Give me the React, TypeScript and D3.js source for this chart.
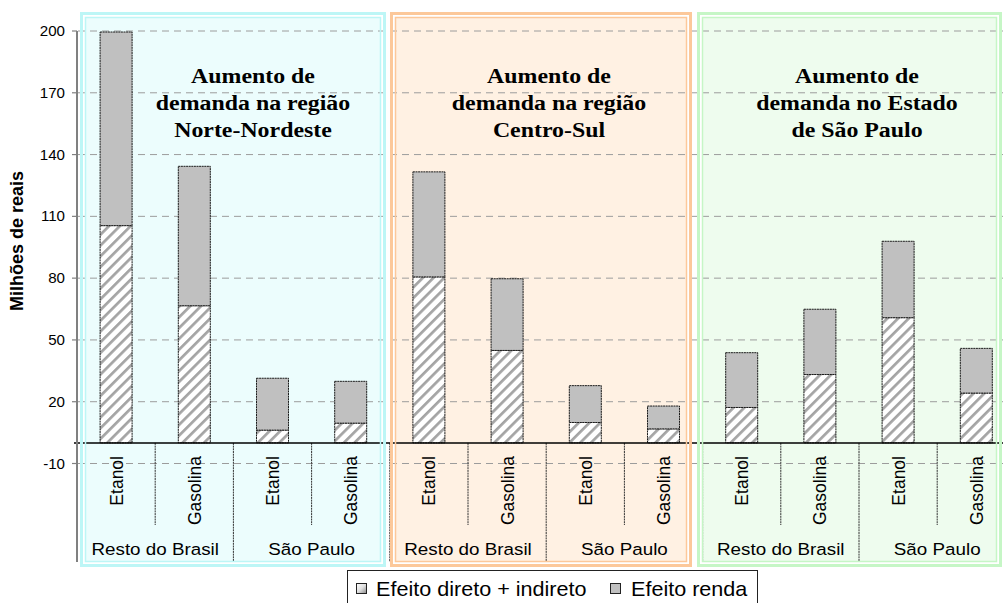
import React from "react";
import * as d3 from "d3";

const categories = ["Etanol", "Gasolina", "Etanol", "Gasolina", "Etanol", "Gasolina", "Etanol", "Gasolina", "Etanol", "Gasolina", "Etanol", "Gasolina"];
const groupLabels = ["Resto do Brasil", "São Paulo", "Resto do Brasil", "São Paulo", "Resto do Brasil", "São Paulo"];
const panelTitles = [
  ["Aumento de", "demanda na região", "Norte-Nordeste"],
  ["Aumento de", "demanda na região", "Centro-Sul"],
  ["Aumento de", "demanda no Estado", "de São Paulo"],
];
const seriesNames = ["Efeito direto + indireto", "Efeito renda"];
const directValues = [105.5, 66.6, 6.2, 9.6, 80.6, 44.9, 9.9, 6.8, 17.2, 33.2, 60.8, 24.2];
const rendaValues = [94.0, 67.7, 25.2, 20.3, 51.0, 34.8, 17.9, 11.1, 26.6, 31.7, 37.1, 21.7];
const yTicks = [200, 170, 140, 110, 80, 50, 20, -10];
const yTitle = "Milhões de reais";

const SANS = "'Liberation Sans', Arial, sans-serif";
const SERIF = "'Liberation Serif', 'Times New Roman', serif";

export default function App() {
  const W = 1003, H = 603;
  const x0 = 77, catW = 78.2, barW = 32;
  const x = d3.scaleBand<number>().domain(d3.range(categories.length)).range([x0, x0 + categories.length * catW]);
  const y = d3.scaleLinear().domain([-10, 200]).range([463.5, 31]);
  const xEnd = x0 + categories.length * catW;

  const data = categories.map((c, i) => ({ i, direct: directValues[i], renda: rendaValues[i] }));
  const stacked = d3.stack<any>().keys(["direct", "renda"])(data);

  const panels = [
    { x1: 80, x2: 386, border: "#bdf6f6", fill: "#ecfdfd", cx: 253 },
    { x1: 390, x2: 692, border: "#fcc89a", fill: "#fff1e3", cx: 549 },
    { x1: 697, x2: 1002, border: "#c6f6c6", fill: "#eefcee", cx: 857 },
  ];
  const pTop = 12, pBot = 567;
  const zeroY = y(0);
  const axisBottom = 562;

  const stext = (t: string, px: number, py: number, size: number, sx: number, anchor: string, opts: any = {}) => (
    <text
      key={t + px + py}
      transform={`translate(${px},${py}) scale(${sx},1)`}
      textAnchor={anchor as any}
      fontFamily={opts.family || SANS}
      fontSize={size}
      fontWeight={opts.weight || "normal"}
      fill={opts.fill || "#000"}
    >
      {t}
    </text>
  );

  return (
    <svg width={W} height={H} style={{ position: "absolute", left: 0, top: 0, background: "#fff" }}>
      <defs>
        <pattern id="hatch" patternUnits="userSpaceOnUse" width={7.6} height={7.6} patternTransform="rotate(45)">
          <rect width={7.6} height={7.6} fill="#ffffff" />
          <rect width={2.7} height={7.6} fill="#a4a4a4" />
        </pattern>
        <linearGradient id="legHatch" x1="0" y1="0" x2="1" y2="1">
          <stop offset="0" stopColor="#ffffff" />
          <stop offset="0.5" stopColor="#e0e0e0" />
          <stop offset="1" stopColor="#888888" />
        </linearGradient>
      </defs>
      <rect width={W} height={H} fill="#fff" />

      {/* panel fills (behind) */}
      {panels.map((p, k) => (
        <rect key={"pf" + k} x={p.x1 + 5.5} y={pTop + 5.5} width={p.x2 - p.x1 - 11} height={pBot - pTop - 11} fill={p.fill} />
      ))}

      {/* gridlines */}
      {yTicks.map((t) => (
        <line key={"g" + t} x1={x0 + 1} x2={xEnd} y1={y(t)} y2={y(t)} stroke="#9c9c9c" strokeWidth={1} strokeDasharray="7 5" />
      ))}

      {/* bars */}
      {stacked.map((s) =>
        s.map((d, j) => {
          const i = (d.data as any).i;
          const bx = (x(i) as number) + (catW - barW) / 2;
          return (
            <rect
              key={s.key + j}
              x={bx}
              y={y(d[1])}
              width={barW}
              height={y(d[0]) - y(d[1])}
              fill={s.key === "direct" ? "url(#hatch)" : "#c0c0c0"}
              stroke="#1a1a1a"
              strokeWidth={1}
              strokeDasharray="2 0.6"
            />
          );
        })
      )}

      {/* category separators */}
      {d3.range(1, categories.length + 1).map((k) => {
        const sx = x0 + k * catW;
        const long = k % 2 === 0;
        return (
          <line key={"s" + k} x1={sx} x2={sx} y1={zeroY} y2={long ? axisBottom : 525} stroke="#333" strokeWidth={1} strokeDasharray="2 0.7" />
        );
      })}

      {/* zero line */}
      <line x1={x0 - 3} x2={xEnd} y1={zeroY} y2={zeroY} stroke="#000" strokeWidth={1.5} />

      {/* y axis */}
      <line x1={x0} x2={x0} y1={y(200)} y2={axisBottom} stroke="#808080" strokeWidth={2} />
      {yTicks.map((t) => (
        <g key={"t" + t}>
          <line x1={x0 - 5} x2={x0} y1={y(t)} y2={y(t)} stroke="#808080" strokeWidth={1.2} />
          {stext(String(t), 65, y(t) + 5, 14, 1.08, "end")}
        </g>
      ))}
      <text transform={`translate(23,241) rotate(-90)`} textAnchor="middle" fontFamily={SANS} fontSize={18} fontWeight="bold">
        {yTitle}
      </text>

      {/* category labels */}
      {categories.map((c, i) => {
        const cx = (x(i) as number) + catW / 2;
        return (
          <text key={"c" + i} transform={`translate(${cx + 6.5},456) rotate(-90)`} textAnchor="end" fontFamily={SANS} fontSize={17.5}>
            {c}
          </text>
        );
      })}
      {groupLabels.map((g, k) => {
        const gx = x0 + (2 * k + 1) * catW;
        return stext(g, gx, 555, 16.5, 1.14, "middle");
      })}

      {/* panel borders and titles */}
      {panels.map((p, k) => (
        <g key={"p" + k}>
          <rect x={p.x1 + 1.5} y={pTop + 1.5} width={p.x2 - p.x1 - 3} height={pBot - pTop - 3} fill="none" stroke={p.border} strokeWidth={3} />
          <rect x={p.x1 + 5.5} y={pTop + 5.5} width={p.x2 - p.x1 - 11} height={pBot - pTop - 11} fill="none" stroke={p.border} strokeWidth={1.5} />
          {panelTitles[k].map((line, li) => stext(line, p.cx, 82.5 + li * 27, 21.5, 1.11, "middle", { family: SERIF, weight: "bold" }))}
        </g>
      ))}

      {/* legend */}
      <rect x={347.5} y={570.5} width={410} height={45} fill="#fff" stroke="#222" strokeWidth={1} />
      <rect x={356.5} y={583.5} width={10} height={10} fill="url(#legHatch)" stroke="#222" strokeWidth={1} />
      {stext(seriesNames[0], 376, 596, 20, 1.08, "start")}
      <rect x={610.5} y={583.5} width={10} height={10} fill="#c0c0c0" stroke="#222" strokeWidth={1} />
      {stext(seriesNames[1], 631, 596, 20, 1.08, "start")}
    </svg>
  );
}
